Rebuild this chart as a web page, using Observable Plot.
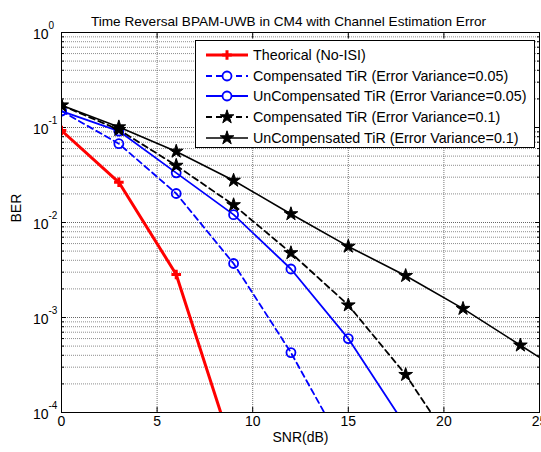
<!DOCTYPE html>
<html><head><meta charset="utf-8">
<script src="https://cdn.jsdelivr.net/npm/d3@7"></script>
<script src="https://cdn.jsdelivr.net/npm/@observablehq/plot@0.6"></script>
<style>
body{margin:0;background:#fff;font-family:"Liberation Sans",Arial,sans-serif;}
#wrap{position:relative;width:541px;height:452px;overflow:hidden;}
#legend{position:absolute;left:195px;top:40px;width:340px;height:108px;border:1px solid #000;background:#fff;box-sizing:border-box;font-size:14.3px;color:#000;}
.row{position:absolute;left:0;height:20px;display:flex;align-items:center;white-space:nowrap;}
.row svg{margin-left:9px;margin-right:4px;}
</style></head><body><div id="wrap"><div id="legend"></div></div>
<script>
const titleText = "Time Reversal BPAM-UWB in CM4 with Channel Estimation Error";
const xLabel = "SNR(dB)";
const yLabel = "BER";
const snr = [0, 3, 6, 9, 12, 15, 18, 21, 24, 27];
const theoretical = [0.093, 0.0265, 0.00284, 3.8e-5];
const compensated005 = [0.149, 0.0675, 0.0202, 0.0037, 4.27e-4, 3.5e-5];
const uncompensated005 = [0.149, 0.0917, 0.0333, 0.0121, 0.00324, 6.0e-4, 7.2e-5];
const compensated01 = [0.171, 0.0947, 0.0398, 0.0153, 0.00478, 0.00135, 2.5e-4, 3.1e-5];
const uncompensated01 = [0.171, 0.101, 0.056, 0.0277, 0.0123, 0.0056, 0.00275, 0.00124, 5.1e-4, 2.1e-4];
const seriesNames = [
  "Theorical (No-ISI)",
  "Compensated TiR (Error Variance=0.05)",
  "UnCompensated TiR (Error Variance=0.05)",
  "Compensated TiR (Error Variance=0.1)",
  "UnCompensated TiR (Error Variance=0.1)"
];
const xTicks = [0, 5, 10, 15, 20, 25];
const decades = [-4, -3, -2, -1, 0];

const styles = [
  {color: "#ff0000", dash: null, symbol: "plus", width: 3, r: 3.2, fill: "none", sw: 3},
  {color: "#0000ff", dash: "6,4", symbol: "circle", width: 1.8, r: 4.5, fill: "none", sw: 1.8},
  {color: "#0000ff", dash: null, symbol: "circle", width: 1.8, r: 4.5, fill: "none", sw: 1.8},
  {color: "#000000", dash: "6,4", symbol: "star", width: 1.8, r: 4.3, fill: "#000", sw: 1},
  {color: "#000000", dash: null, symbol: "star", width: 1.6, r: 4.3, fill: "#000", sw: 1}
];
const allValues = [theoretical, compensated005, uncompensated005, compensated01, uncompensated01];
const series = allValues.map((vals, k) => ({name: seriesNames[k], style: styles[k],
  data: vals.map((v, i) => ({x: snr[i], y: v}))}));

const minor = [];
for (let e = -4; e < 0; e++) for (let m = 2; m <= 9; m++) minor.push(m * Math.pow(10, e));
const majors = decades.map(e => Math.pow(10, e));

const marks = [
  Plot.ruleY(minor, {stroke: "#808080", strokeWidth: 0.9, strokeDasharray: "1,1"}),
  Plot.ruleY(majors, {stroke: "#666", strokeWidth: 1, strokeDasharray: "1,1"}),
  Plot.ruleX(xTicks, {stroke: "#666", strokeWidth: 0.9, strokeDasharray: "1,1"}),
  Plot.axisX(xTicks, {anchor: "bottom", tickSize: -5, text: null, label: null}),
  Plot.axisX(xTicks, {anchor: "top", tickSize: -5, text: null, label: null}),
  Plot.axisY(majors, {anchor: "left", tickSize: -5, text: null, label: null}),
  Plot.axisY(majors, {anchor: "right", tickSize: -5, text: null, label: null}),
  Plot.axisY(minor, {anchor: "left", tickSize: -3, text: null, label: null}),
  Plot.axisY(minor, {anchor: "right", tickSize: -3, text: null, label: null}),
  Plot.axisX(xTicks, {anchor: "bottom", tickSize: 0, tickPadding: 4, fontSize: 14, label: null}),
  Plot.text(majors, {y: d => d, text: () => "10", frameAnchor: "left", textAnchor: "end", dx: -13, dy: 2, fontSize: 14}),
  Plot.text(majors, {y: d => d, text: d => String(Math.round(Math.log10(d))), frameAnchor: "left", textAnchor: "start", dx: -13, dy: -7, fontSize: 10}),
  Plot.text([titleText], {frameAnchor: "top", dy: -16, dx: -12, fontSize: 13.6}),
  Plot.text([xLabel], {frameAnchor: "bottom", dy: 29, fontSize: 14}),
  Plot.text([yLabel], {frameAnchor: "left", dx: -45, rotate: -90, fontSize: 14}),
  ...series.flatMap(s => [
    Plot.line(s.data, {x: "x", y: "y", stroke: s.style.color, strokeWidth: s.style.width,
      strokeDasharray: s.style.dash, clip: true}),
    Plot.dot(s.data, {x: "x", y: "y", symbol: () => s.style.symbol, r: s.style.r,
      stroke: s.style.color, fill: s.style.fill, strokeWidth: s.style.sw, clip: true})
  ]),
  Plot.frame({stroke: "#000", strokeWidth: 1})
];

const chart = Plot.plot({
  width: 541, height: 452,
  marginLeft: 61, marginRight: 2, marginTop: 32, marginBottom: 40,
  style: {fontFamily: '"Liberation Sans", Arial, sans-serif', color: "#000", background: "#fff"},
  x: {domain: [0, 25], axis: null},
  y: {type: "log", domain: [1e-4, 1], axis: null},
  symbol: {type: "identity"},
  marks
});
const wrap = document.getElementById("wrap");
wrap.insertBefore(chart, wrap.firstChild);

// legend
const legend = document.getElementById("legend");
const symMap = {circle: d3.symbolCircle, star: d3.symbolStar, plus: d3.symbolPlus};
series.forEach((s, i) => {
  const row = document.createElement("div");
  row.className = "row";
  row.style.top = (4 + i * 20.7) + "px";
  const svg = d3.create("svg").attr("width", 44).attr("height", 20);
  svg.append("line").attr("x1", 1).attr("x2", 43).attr("y1", 10).attr("y2", 10)
    .attr("stroke", s.style.color).attr("stroke-width", s.style.width)
    .attr("stroke-dasharray", s.style.dash);
  const size = Math.PI * s.style.r * s.style.r;
  svg.append("path").attr("transform", "translate(22,10)")
    .attr("d", d3.symbol(symMap[s.style.symbol], size)())
    .attr("fill", s.style.fill === "none" ? "#fff" : s.style.fill)
    .attr("stroke", s.style.color).attr("stroke-width", s.style.sw);
  row.appendChild(svg.node());
  const span = document.createElement("span");
  span.textContent = s.name;
  row.appendChild(span);
  legend.appendChild(row);
});
</script>
</body></html>
